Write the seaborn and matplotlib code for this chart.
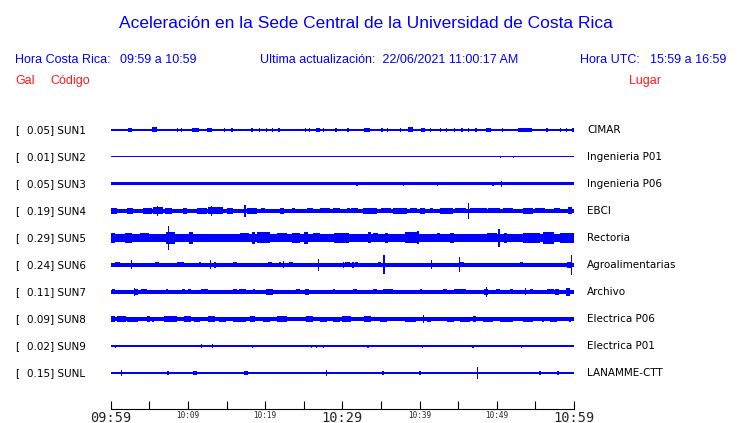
import matplotlib
matplotlib.use("Agg")
import matplotlib.pyplot as plt
import seaborn as sns
import numpy as np

# stations
codes = ["SUN1", "SUN2", "SUN3", "SUN4", "SUN5", "SUN6", "SUN7", "SUN8", "SUN9", "SUNL"]
gal = [0.05, 0.01, 0.05, 0.19, 0.29, 0.24, 0.11, 0.09, 0.02, 0.15]
places = ["CIMAR", "Ingenieria P01", "Ingenieria P06", "EBCI", "Rectoria",
          "Agroalimentarias", "Archivo", "Electrica P06", "Electrica P01", "LANAMME-CTT"]

# background noise level of each trace (half band, in trace units)
base_amp = [0.9, 0.5, 1.5, 1.8, 3.6, 1.8, 1.6, 1.9, 0.6, 1.5]

# bursts: (minute after 09:59, amplitude, duration in minutes)
sun1_bursts = [(0.0, 2, 0.15), (2.5, 1.8, 0.6), (5.7, 2.5, 0.6), (8.6, 1.6, 0.15), (9.2, 1.6, 0.15),
               (11.0, 2.2, 0.9), (12.8, 1.8, 0.6), (14.7, 1.6, 0.15), (15.7, 1.6, 0.3), (18.3, 1.6, 0.2),
               (19.3, 1.6, 0.15), (20.2, 1.6, 0.15), (21.0, 1.6, 0.15), (21.8, 1.6, 0.15), (25.2, 1.6, 0.15),
               (25.8, 1.6, 0.15), (26.9, 2, 0.5), (27.6, 1.6, 0.15), (29.2, 1.6, 0.2), (30.7, 1.6, 0.2),
               (33.2, 1.8, 0.8), (35.1, 1.6, 0.2), (35.9, 1.6, 0.15), (37.5, 1.6, 0.15), (38.8, 2.5, 0.6),
               (40.5, 1.8, 0.5), (41.4, 1.6, 0.15), (42.7, 1.6, 0.15), (43.5, 1.6, 0.15), (44.5, 1.6, 0.15),
               (45.5, 1.6, 0.15), (46.3, 1.6, 0.15), (47.3, 1.6, 0.3), (48.9, 2.2, 0.6), (50.7, 1.6, 0.15),
               (53.6, 2, 1.8), (56.5, 1.8, 0.3), (58.2, 1.6, 0.15), (59.0, 1.6, 0.15), (59.9, 2, 0.2)]
sun2_bursts = [(50.5, 1.2, 0.1), (52.2, 1.2, 0.1)]
sun3_bursts = [(31.9, 1.8, 0.15), (37.9, 1.8, 0.15), (42.3, 1.8, 0.15), (49.5, 1.8, 0.15), (50.6, 3, 0.15)]
sun4_bursts = [(0.4, 3, 0.8), (2.5, 3, 0.8), (4.8, 3, 1.2), (6.1, 3.5, 1.3), (6.1, 5, 0.15),
               (7.5, 2.8, 0.9), (9.6, 2.8, 0.6), (11.8, 3, 1.3), (13.6, 3.5, 1.9), (13.1, 5, 0.15),
               (15.4, 2.8, 0.8), (17.4, 6, 0.15), (18.3, 3, 1.3), (19.7, 2.5, 0.6), (22.2, 2.8, 0.6),
               (23.7, 2.5, 0.4), (25.8, 2.5, 0.8), (27.7, 2.5, 1.3), (29.3, 2.5, 0.9), (30.8, 2.5, 0.4),
               (31.6, 2.5, 0.9), (33.6, 3, 1.8), (35.6, 2.5, 1.3), (37.5, 3, 1.8), (39.2, 2.5, 0.9),
               (40.4, 3, 0.6), (41.5, 2.5, 0.4), (43.5, 3, 1.7), (45.3, 2.5, 1.3), (46.3, 8, 0.15),
               (47.6, 2.5, 2.2), (49.6, 2.5, 1.6), (51.5, 2.5, 1.3), (54.1, 3, 1.3), (55.6, 2.5, 1.3),
               (57.8, 2.5, 0.9), (59.5, 3.5, 0.6)]
sun5_bursts = [(0.2, 5, 0.8), (2.3, 5, 1.0), (4.4, 4.5, 1.2), (6.5, 4, 0.8), (7.5, 12, 0.2),
               (7.6, 6, 0.8), (8.1, 6, 0.5), (10.4, 6, 0.4), (13.2, 4, 0.8), (15.2, 4, 1.3),
               (17.3, 4.5, 1.1), (18.5, 6, 0.4), (19.8, 5.5, 1.7), (22.2, 4.5, 1.3), (24.0, 5, 1.1),
               (25.3, 6, 0.6), (26.7, 4.5, 0.9), (29.9, 5, 2.0), (30.3, 4.5, 1.2), (33.5, 5.5, 0.3),
               (34.3, 4.5, 0.6), (35.7, 5, 0.3), (39.0, 5.5, 1.9), (39.8, 6.5, 0.2), (42.4, 4.5, 0.4),
               (44.2, 5, 0.4), (47.4, 4, 1.7), (49.4, 4.5, 1.3), (50.3, 9, 0.2), (51.1, 5, 0.4),
               (54.5, 5, 2.1), (56.7, 6, 1.3), (59.1, 5, 1.7)]
sun6_bursts = [(0.9, 2.5, 0.7), (2.7, 4.5, 0.15), (3.8, 2, 0.2), (6.0, 2.5, 0.5), (7.3, 2, 0.8),
               (9.0, 2.5, 0.9), (11.6, 2.5, 0.3), (12.9, 4.5, 0.15), (13.5, 3, 0.2), (16.1, 2.5, 0.5),
               (18.3, 2, 1.3), (20.6, 2.5, 0.5), (21.9, 2.5, 0.2), (22.4, 3.5, 0.15), (23.4, 2.5, 0.5),
               (25.4, 2, 0.3), (26.9, 6, 0.15), (29.3, 2, 0.9), (30.1, 3, 0.15), (30.7, 2.5, 0.7),
               (31.4, 3, 0.3), (31.8, 2.5, 0.4), (34.8, 2.5, 0.4), (35.4, 9.5, 0.15), (37.2, 2, 0.3),
               (39.4, 2, 0.2), (41.5, 4.5, 0.15), (44.4, 2, 0.3), (45.2, 7.5, 0.15), (45.5, 2.5, 0.6),
               (50.4, 2, 0.6), (53.2, 2.5, 0.3), (58.2, 2, 0.3), (59.4, 3, 0.5), (59.7, 10, 0.15)]
sun7_bursts = [(0.4, 2.5, 0.4), (2.3, 2, 0.5), (3.1, 4, 0.15), (3.3, 3, 0.6), (4.3, 2.5, 0.7),
               (6.1, 2, 0.2), (7.3, 2.5, 0.3), (9.4, 2.5, 0.4), (10.2, 2.5, 0.3), (12.2, 2.5, 0.9),
               (16.1, 2.5, 0.5), (17.1, 2.5, 0.9), (18.6, 2.5, 0.3), (20.6, 3, 0.9), (24.3, 2.5, 0.5),
               (25.4, 3, 0.5), (28.9, 2.5, 0.3), (31.6, 2.5, 0.5), (34.2, 2.5, 0.5), (35.9, 2.5, 1.2),
               (37.5, 2, 0.3), (40.2, 2.5, 0.3), (43.3, 2.5, 0.5), (45.2, 2.5, 1.6), (48.7, 5, 0.15),
               (48.6, 3, 0.6), (50.2, 2.5, 0.5), (51.9, 2.5, 0.5), (53.7, 3.5, 0.15), (54.5, 2.5, 0.3),
               (56.9, 2.5, 0.9), (57.8, 3, 0.4), (59.2, 4, 0.6)]
sun8_bursts = [(0.2, 3.3, 0.7), (1.4, 2.8, 1.1), (2.8, 2.5, 1.5), (4.9, 3, 0.3), (5.5, 2.5, 0.2),
               (7.7, 3, 1.7), (10.0, 2.8, 0.9), (11.2, 2.5, 0.7), (13.1, 3, 0.9), (14.5, 2.5, 0.9),
               (16.7, 2.5, 1.7), (18.4, 2.8, 0.7), (20.2, 2.5, 0.9), (22.2, 3, 1.3), (25.8, 3, 0.9),
               (27.5, 2.5, 0.9), (29.3, 2.5, 0.9), (30.5, 3, 1.2), (33.2, 3, 0.9), (35.3, 2.5, 0.9),
               (38.8, 2.5, 1.5), (40.5, 4, 0.15), (41.2, 2.5, 0.5), (44.0, 2.5, 0.9), (45.9, 2.5, 1.3),
               (47.1, 3, 0.3), (48.9, 2.5, 1.3), (51.3, 2.5, 1.7), (54.1, 2.5, 1.3), (56.0, 2.5, 0.3),
               (57.3, 2.5, 0.9), (59.5, 2.5, 0.3)]
sun9_bursts = [(0.3, 2, 0.1), (0.6, 1.5, 0.1), (2.9, 1.5, 0.1), (11.8, 2, 0.1), (13.2, 2, 0.2),
               (18.4, 1.5, 0.1), (26.0, 1.5, 0.1), (26.7, 1.5, 0.1), (27.6, 1.5, 0.1), (33.3, 1.5, 0.3),
               (35.9, 1.2, 0.1), (39.2, 1.2, 0.1), (40.4, 1.5, 0.1), (43.7, 1.2, 0.1), (46.9, 1.5, 0.2),
               (47.8, 1.2, 0.1), (50.8, 1.2, 0.1), (53.2, 1.5, 0.2), (54.1, 1.2, 0.1), (54.7, 1.2, 0.1),
               (56.0, 1.2, 0.1)]
sunl_bursts = [(1.4, 2.7, 0.15), (7.4, 2.3, 0.2), (10.9, 2.3, 0.5), (17.5, 2.2, 0.5), (28.0, 3, 0.15),
               (35.3, 2.3, 0.3), (40.1, 2.3, 0.3), (47.5, 6.3, 0.15), (55.6, 2, 0.3), (57.9, 2.3, 0.2)]
bursts = [sun1_bursts, sun2_bursts, sun3_bursts, sun4_bursts, sun5_bursts,
          sun6_bursts, sun7_bursts, sun8_bursts, sun9_bursts, sunl_bursts]

tick_minutes = list(range(0, 61, 5))
tick_labels = {0: "09:59", 10: "10:09", 20: "10:19", 30: "10:29", 40: "10:39", 50: "10:49", 60: "10:59"}
big_ticks = [0, 30, 60]

BLUE = "#0000ff"
RED = "#ff1a1a"
W, H = 740, 423
ROW = 27.0  # px between traces

sns.set_theme(style="white")
plt.rcParams["font.family"] = ["Liberation Sans", "DejaVu Sans"]

fig = plt.figure(figsize=(W / 100, H / 100), dpi=100)
ax = fig.add_axes([110.7 / W, 1 - 409 / H, (574 - 110.7) / W, (409 - 100) / H])


def ftext(x, y, s, **kw):
    fig.text(x / W, 1 - y / H, s, va="center", **kw)


for i, code in enumerate(codes):
    b = base_amp[i] / ROW
    ax.fill_between([0, 60], i - b, i + b, color=BLUE, linewidth=0)
    if bursts[i]:
        m = np.array([t[0] for t in bursts[i]])
        a = np.array([t[1] for t in bursts[i]]) / ROW
        w = np.array([t[2] for t in bursts[i]])
        ax.bar(m, 2 * a, width=w, bottom=i - a, color=BLUE, linewidth=0)
    ypx = 130 + i * ROW
    ftext(15, ypx, "[", fontsize=7.5, family="DejaVu Sans", color="black")
    ftext(27, ypx, f"{gal[i]:.2f}] {code}", fontsize=7.5, family="DejaVu Sans", color="black")
    ftext(587, ypx, places[i], fontsize=7.5, family="DejaVu Sans", color="black")

ax.set_xlim(0, 60)
ax.set_ylim(9 + 36 / ROW, -30 / ROW)
ax.set_yticks([])
ax.set_xticks(tick_minutes)
ax.set_xticklabels([tick_labels.get(t, "") for t in tick_minutes])
for t, lab in zip(tick_minutes, ax.get_xticklabels()):
    lab.set_family("DejaVu Sans Mono")
    lab.set_fontsize(9.8 if t in big_ticks else 5.5)
ax.tick_params(axis="x", direction="in", length=6, width=0.8, color="black", pad=1.5, bottom=True)
sns.despine(ax=ax, left=True, top=True, right=True)
ax.spines["bottom"].set_color("black")
ax.spines["bottom"].set_linewidth(0.8)
ax.set_facecolor("white")
ax.grid(False)

# header
fig.text(366 / W, 1 - 23 / H, "Aceleración en la Sede Central de la Universidad de Costa Rica",
         ha="center", va="center", fontsize=12.5, color=BLUE)
ftext(15, 60, "Hora Costa Rica:", fontsize=9, color=BLUE)
ftext(120, 60, "09:59 a 10:59", fontsize=9, color=BLUE)
ftext(260, 60, "Ultima actualización:  22/06/2021 11:00:17 AM", fontsize=9, color=BLUE)
ftext(580, 60, "Hora UTC:", fontsize=9, color=BLUE)
ftext(650, 60, "15:59 a 16:59", fontsize=9, color=BLUE)
ftext(15, 81, "Gal", fontsize=9, color=RED)
ftext(50, 81, "Código", fontsize=9, color=RED)
ftext(629, 81, "Lugar", fontsize=9, color=RED)

fig.savefig("out.png", dpi=100, facecolor="white")
